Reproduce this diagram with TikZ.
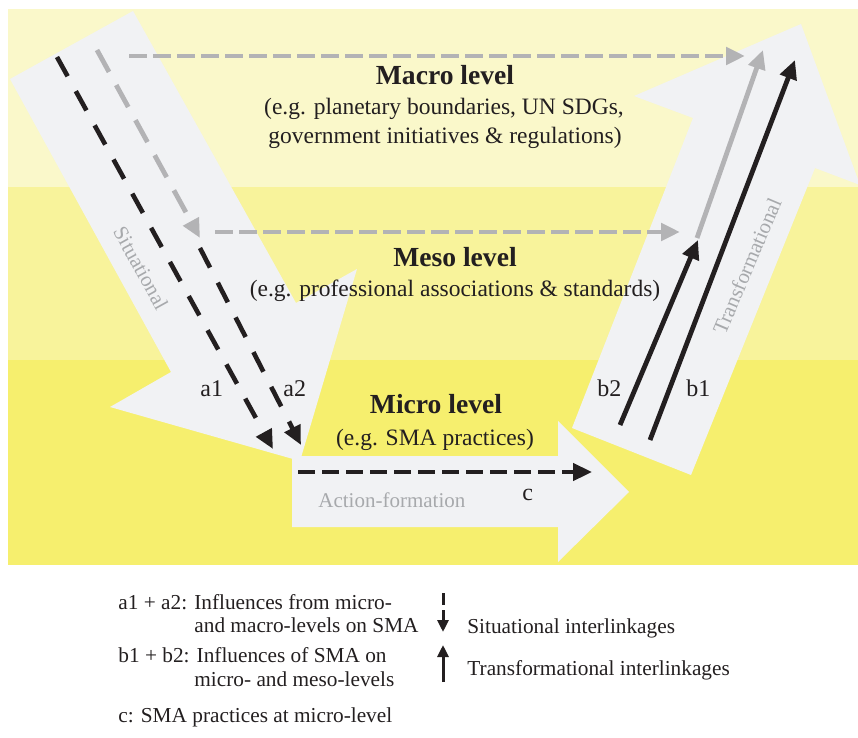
\documentclass[tikz,border=0pt]{standalone}
\usepackage{fontspec}
\setmainfont{Liberation Serif}
\usepackage{xcolor}
\usetikzlibrary{arrows.meta}

\definecolor{macrobg}{RGB}{250,248,202}
\definecolor{mesobg}{RGB}{248,243,155}
\definecolor{microbg}{RGB}{246,239,110}
\definecolor{arrowbg}{RGB}{241,242,244}
\definecolor{dashgrey}{RGB}{179,179,181}
\definecolor{labelgrey}{RGB}{167,169,172}
\definecolor{ink}{RGB}{35,31,32}

\tikzset{
  leveltitle/.style={anchor=base, inner sep=0pt, text=ink, font=\fontsize{13.8}{16}\selectfont\bfseries},
  levelnote/.style={anchor=base, inner sep=0pt, text=ink, font=\fontsize{11.75}{14}\selectfont},
  linklabel/.style={anchor=base west, inner sep=0pt, text=ink, font=\fontsize{12}{14}\selectfont},
  flowlabel/.style={inner sep=0pt, text=labelgrey, font=\fontsize{10.5}{12}\selectfont},
  legendtext/.style={anchor=base west, inner sep=0pt, text=ink, font=\fontsize{10.65}{13}\selectfont},
  greydash/.style={dashgrey, line width=2.4pt, dash pattern=on 8.8pt off 3.2pt, -{Triangle[length=9.5pt,width=8.5pt]}},
  sitdash/.style={ink, line width=2.3pt, dash pattern=on 11pt off 8.5pt, -{Triangle[length=9.5pt,width=8.5pt]}},
  transline/.style={ink, line width=2.4pt, -{Triangle[length=9.5pt,width=8.5pt]}}
}

\begin{document}
\begin{tikzpicture}[x=0.5pt,y=-0.5pt]
            \useasboundingbox (0,0) rectangle (858,738);
            \clip (0,0) rectangle (858,738);
            % level bands
            \fill[macrobg] (8,9) rectangle (858,187);
            \fill[mesobg] (8,187) rectangle (858,360);
            \fill[microbg] (8,360) rectangle (858,565);
            % block arrows
            \fill[arrowbg] (133,11) -- (296,303) -- (357,269) -- (300,461) -- (110,407) -- (171,372) -- (10,79) -- cycle;
            \fill[arrowbg] (572,428) -- (693,118) -- (634,96) -- (801,24) -- (860,185) -- (815,168) -- (691,475) -- cycle;
            \fill[arrowbg] (292,456) -- (558,456) -- (558,421) -- (629,492) -- (558,562) -- (558,527) -- (292,527) -- cycle;
            \node[flowlabel, rotate=-61] (sit) at (141,268){Situational};
            \node[flowlabel, rotate=67] (trans) at (747,266){Transformational};
            \node[flowlabel, anchor=base west] (act) at (318,507){Action-formation};
            % levels
            \node[leveltitle] (macro) at (445,85){Macro level};
            \node[levelnote] (macroA) at (444,115){(e.g. planetary boundaries, UN SDGs,};
            \node[levelnote] (macroB) at (445,144){government initiatives \& regulations)};
            \node[leveltitle] (meso) at (455,267){Meso level};
            \node[levelnote] (mesoA) at (455,297){(e.g. professional associations \& standards)};
            \node[leveltitle] (micro) at (436,413){Micro level};
            \node[levelnote] (microA) at (435,445){(e.g. SMA practices)};
            \node[linklabel] (a1) at (200,396){a1};
            \node[linklabel] (a2) at (283,396){a2};
            \node[linklabel] (b2) at (597,396){b2};
            \node[linklabel] (b1) at (686,396){b1};
            \node[linklabel] (c) at (522,500){c};
            % interlinkages
            \coordinate (macroL) at (129,56);
            \coordinate (macroR) at (745,56);
            \coordinate (greyS) at (97,50);
            \coordinate (greyE) at (200,238);
            \coordinate (mesoL) at (215,232);
            \coordinate (mesoR) at (680,232);
            \coordinate (a1S) at (57,57);
            \coordinate (a1E) at (273,449);
            \coordinate (a2S) at (200,248);
            \coordinate (a2E) at (301,445);
            \coordinate (cS) at (298,472);
            \coordinate (cE) at (592,472);
            \coordinate (b2S) at (620,425);
            \coordinate (b2E) at (698,240);
            \coordinate (greyB) at (697,238);
            \coordinate (greyT) at (763,50);
            \coordinate (b1S) at (650,440);
            \coordinate (b1E) at (795,60);
            \draw[greydash] (macroL) -- (macroR);
            \draw[greydash, dash pattern=on 12.5pt off 7.5pt] (greyS) -- (greyE);
            \draw[greydash] (mesoL) -- (mesoR);
            \draw[sitdash] (a1S) -- (a1E);
            \draw[sitdash] (a2S) -- (a2E);
            \draw[sitdash, dash pattern=on 8.3pt off 3.7pt] (cS) -- (cE);
            \draw[transline] (b2S) -- (b2E);
            \draw[transline, dashgrey] (greyB) -- (greyT);
            \draw[transline] (b1S) -- (b1E);
            % legend
            \node[legendtext] (legA) at (118,609){a1 + a2: Influences from micro-};
            \node[legendtext] (legB) at (194,632){and macro-levels on SMA};
            \node[legendtext] (legC) at (118,662){b1 + b2: Influences of SMA on};
            \node[legendtext] (legD) at (194,686){micro- and meso-levels};
            \node[legendtext] (legE) at (118,722){c: SMA practices at micro-level};
            \node[legendtext] (legSit) at (467,633){Situational interlinkages};
            \node[legendtext] (legTrans) at (467,675){Transformational interlinkages};
            \coordinate (sitT) at (443,593);
            \coordinate (sitB) at (443,632);
            \coordinate (trB) at (443,682);
            \coordinate (trT) at (443,645);
            \draw[ink, line width=1.5pt, dash pattern=on 6pt off 2.5pt, -{Triangle[length=6pt,width=5.5pt]}] (sitT) -- (sitB);
            \draw[ink, line width=1.5pt, -{Triangle[length=6pt,width=5.5pt]}] (trB) -- (trT);
\end{tikzpicture}
\end{document}
